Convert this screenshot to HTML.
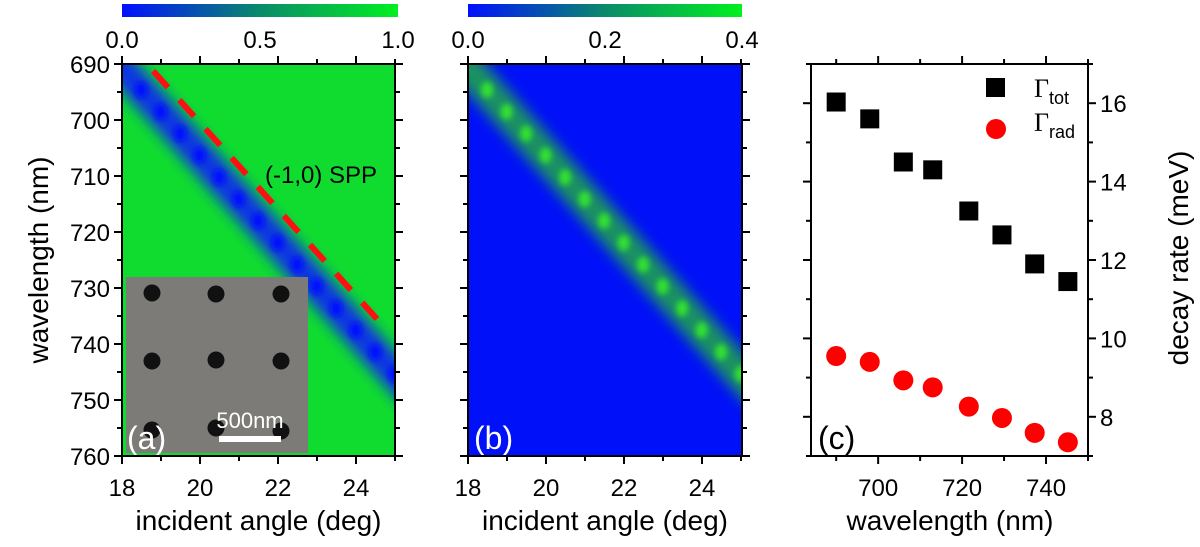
<!DOCTYPE html>
<html><head><meta charset="utf-8"><style>
html,body{margin:0;padding:0;background:#fff;}
svg{display:block;font-family:"Liberation Sans",Arial,sans-serif;}
</style></head><body>
<svg id="chart" width="1200" height="547" viewBox="0 0 1200 547" xmlns="http://www.w3.org/2000/svg">
<defs>
<linearGradient id="cbA" x1="0" x2="1"><stop offset="0" stop-color="#0010ff"/><stop offset="0.5" stop-color="#0a8a6a"/><stop offset="1" stop-color="#00f020"/></linearGradient>
<filter id="blur8" x="-50%" y="-50%" width="200%" height="200%"><feGaussianBlur stdDeviation="7"/></filter>
<filter id="blur3" x="-50%" y="-50%" width="200%" height="200%"><feGaussianBlur stdDeviation="3"/></filter>
<clipPath id="clipA"><rect x="122" y="64" width="273" height="392"/></clipPath>
<clipPath id="clipB"><rect x="468" y="64" width="274" height="392"/></clipPath>
</defs>
<g id="root"></g>
</svg>
<script>
// Panel (c) data
const wavelengths = [690, 698, 706, 713, 721.6, 729.5, 737.3, 745.2];
const gammaTot = [16.03, 15.6, 14.5, 14.3, 13.25, 12.64, 11.9, 11.45];
const gammaRad = [9.55, 9.4, 8.93, 8.75, 8.26, 7.97, 7.59, 7.35];
const cTicksY = [8, 10, 12, 14, 16];
const cTicksX = [700, 720, 740];
// Panels (a),(b) axis data
const angleTicks = [18, 20, 22, 24];
const wlTicks = [690, 700, 710, 720, 730, 740, 750, 760];
const cbarATicks = ["0.0", "0.5", "1.0"];
const cbarBTicks = ["0.0", "0.2", "0.4"];

const NS = "http://www.w3.org/2000/svg";
const root = document.getElementById('root');
function mk(tag, attrs, parent, text) {
  const e = document.createElementNS(NS, tag);
  for (const k in attrs) e.setAttribute(k, attrs[k]);
  if (text !== undefined) e.textContent = text;
  (parent || root).appendChild(e);
  return e;
}
const wlY = v => 64 + (v - 690) * 392 / 70;
const angX = (v, x0) => x0 + (v - 18) * 273 / 7;
const bandWl = a => 690.8 + (a - 18) * 7.8;

function heatPanel(x0, clip, bg, bandCol, bandW, dotCol, name) {
  const g = mk('g', {'clip-path': 'url(#' + clip + ')'});
  
  
  mk('rect', {x: x0, y: 64, width: 274, height: 392, fill: bg}, g);
  const p1 = [angX(17.3, x0), wlY(bandWl(17.3))], p2 = [angX(25.5, x0), wlY(bandWl(25.5))];
  mk('line', {x1: p1[0], y1: p1[1], x2: p2[0], y2: p2[1], stroke: bandCol, 'stroke-width': bandW, filter: 'url(#blur8)', opacity: 0.95}, g);
  for (let a = 18.49; a <= 25.3; a += 0.5) {
    const d = mk('ellipse', {cx: angX(a, x0), cy: wlY(bandWl(a)), rx: 6, ry: 8, fill: dotCol, filter: 'url(#blur3)'}, g);
    
    
  }
  return g;
}
function axesBox(x0, x1, ticksLeftLabels, name) {
  const g = mk('g', {});
  
  
  mk('rect', {x: x0, y: 64, width: x1 - x0, height: 392, fill: 'none', stroke: '#000', 'stroke-width': 2}, g);
  for (let a = 18; a <= 25; a += 1) {
    const x = angX(a, x0), L = (a % 2 === 0) ? 8 : 5;
    mk('line', {x1: x, y1: 64, x2: x, y2: 64 - L, stroke: '#000', 'stroke-width': 2}, g);
    mk('line', {x1: x, y1: 456, x2: x, y2: 456 + L, stroke: '#000', 'stroke-width': 2}, g);
  }
  for (let w = 690; w <= 760; w += 5) {
    const y = wlY(w), L = (w % 10 === 0) ? 8 : 5;
    mk('line', {x1: x0, y1: y, x2: x0 - L, y2: y, stroke: '#000', 'stroke-width': 2}, g);
    mk('line', {x1: x1, y1: y, x2: x1 + L, y2: y, stroke: '#000', 'stroke-width': 2}, g);
  }
  angleTicks.forEach(a => {
    const t = mk('text', {x: angX(a, x0), y: 496, 'font-size': 24, 'text-anchor': 'middle'}, g, String(a));
    
    
  });
  if (ticksLeftLabels) wlTicks.forEach(w => {
    const t = mk('text', {x: x0 - 12, y: wlY(w) + 9, 'font-size': 24, 'text-anchor': 'end'}, g, String(w));
    
    
  });
  const xt = mk('text', {x: (x0 + x1) / 2, y: 530, 'font-size': 28, 'text-anchor': 'middle'}, g, 'incident angle (deg)');
  
  
}
function colorbar(x0, x1, grad, labels, name) {
  const g = mk('g', {});
  
  
  mk('rect', {x: x0, y: 4, width: x1 - x0, height: 13, fill: grad}, g);
  labels.forEach((l, i) => {
    const t = mk('text', {x: x0 + (x1 - x0) * i / (labels.length - 1), y: 48, 'font-size': 24, 'text-anchor': 'middle'}, g, l);
    
    
  });
}

// Panel a
heatPanel(122, 'clipA', '#10dc30', '#0f2cf0', 30, '#0010ff', 'panel-a');
const dash = mk('line', {x1: angX(18.8, 122), y1: wlY(691.25), x2: angX(24.56, 122), y2: wlY(735.7), stroke: '#ff1010', 'stroke-width': 6, 'stroke-dasharray': '22 17'});


const spp = mk('text', {x: 265, y: 183, 'font-size': 24}, root, '(-1,0) SPP');


const ins = mk('g', {});


mk('rect', {x: 126, y: 277, width: 182, height: 176, fill: '#7c7b78'}, ins);
[[152, 293], [216, 294], [281, 294], [152, 361], [216, 360], [281, 361], [152, 430], [216, 428], [281, 431]].forEach(p => {
  mk('circle', {cx: p[0], cy: p[1], r: 8.5, fill: '#111'}, ins);
});
mk('rect', {x: 219, y: 436, width: 62, height: 6, fill: '#fff'}, ins);
mk('text', {x: 250, y: 428, 'font-size': 22, fill: '#fff', 'text-anchor': 'middle'}, ins, '500nm');
const la = mk('text', {x: 127, y: 449, 'font-size': 32, fill: '#fff'}, root, '(a)');


axesBox(122, 395, true, 'panel-a');
colorbar(122, 398, 'url(#cbA)', cbarATicks, 'colorbar-a');
const yt = mk('text', {x: 0, y: 0, 'font-size': 28, 'text-anchor': 'middle', transform: 'translate(48,260) rotate(-90)'}, root, 'wavelength (nm)');



// Panel b
heatPanel(468, 'clipB', '#0010f8', '#1f9a5a', 32, '#30e030', 'panel-b');
const lb = mk('text', {x: 474, y: 449, 'font-size': 32, fill: '#fff'}, root, '(b)');


axesBox(468, 742, false, 'panel-b');
colorbar(468, 742, 'url(#cbA)', cbarBTicks, 'colorbar-b');

// Panel c
const cx0 = 811, cx1 = 1088;
const cX = v => cx0 + (v - 684) * (cx1 - cx0) / 66;
const cY = v => 456 - (v - 7) * 392 / 10;
const gc = mk('g', {});


mk('rect', {x: cx0, y: 64, width: cx1 - cx0, height: 392, fill: 'none', stroke: '#000', 'stroke-width': 2}, gc);
for (let v = 690; v <= 750; v += 10) {
  const x = cX(v), L = (v % 20 === 0) ? 8 : 5;
  mk('line', {x1: x, y1: 64, x2: x, y2: 64 - L, stroke: '#000', 'stroke-width': 2}, gc);
  mk('line', {x1: x, y1: 456, x2: x, y2: 456 + L, stroke: '#000', 'stroke-width': 2}, gc);
}
for (let v = 7; v <= 17; v += 1) {
  const y = cY(v), L = (v % 2 === 0) ? 8 : 5;
  mk('line', {x1: cx0, y1: y, x2: cx0 - L, y2: y, stroke: '#000', 'stroke-width': 2}, gc);
  mk('line', {x1: cx1, y1: y, x2: cx1 + L, y2: y, stroke: '#000', 'stroke-width': 2}, gc);
}
cTicksX.forEach(v => {
  const t = mk('text', {x: cX(v), y: 496, 'font-size': 24, 'text-anchor': 'middle'}, gc, String(v));
  
  
});
cTicksY.forEach(v => {
  const t = mk('text', {x: cx1 + 12, y: cY(v) + 9, 'font-size': 24}, gc, String(v));
  
  
});
const cxt = mk('text', {x: 950, y: 530, 'font-size': 28, 'text-anchor': 'middle'}, root, 'wavelength (nm)');


const cyt = mk('text', {x: 0, y: 0, 'font-size': 28, 'text-anchor': 'middle', transform: 'translate(1188,258) rotate(-90)'}, root, 'decay rate (meV)');


wavelengths.forEach((w, i) => {
  const s = mk('rect', {x: cX(w) - 9.5, y: cY(gammaTot[i]) - 9.5, width: 19, height: 19, fill: '#000'});
  
  
  const c = mk('circle', {cx: cX(w), cy: cY(gammaRad[i]), r: 10, fill: '#ff0000'});
  
  
});
const lc = mk('text', {x: 818, y: 449, 'font-size': 32}, root, '(c)');


const lg = mk('g', {});


mk('rect', {x: 986, y: 78, width: 19, height: 19, fill: '#000'}, lg);
mk('circle', {cx: 996, cy: 129, r: 10, fill: '#ff0000'}, lg);
const t1 = mk('text', {x: 1034, y: 97, 'font-size': 26, 'font-family': 'Liberation Serif, serif'}, lg, 'Γ');
mk('tspan', {'font-size': 18, dy: 7, 'font-family': 'Liberation Sans, sans-serif'}, t1, 'tot');
const t2 = mk('text', {x: 1034, y: 131, 'font-size': 26, 'font-family': 'Liberation Serif, serif'}, lg, 'Γ');
mk('tspan', {'font-size': 18, dy: 7, 'font-family': 'Liberation Sans, sans-serif'}, t2, 'rad');
</script>
</body></html>
